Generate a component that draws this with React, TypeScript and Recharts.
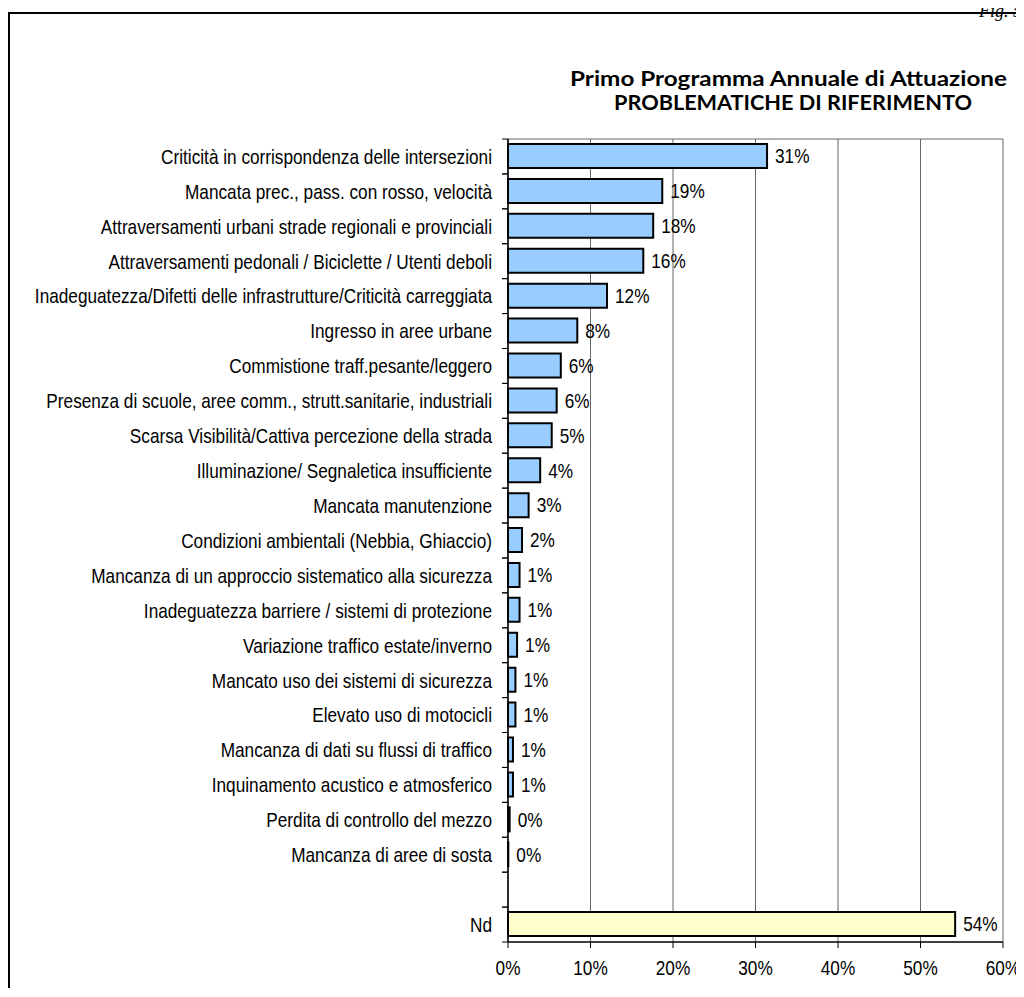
import { BarChart, Bar, XAxis, YAxis, CartesianGrid, LabelList, Cell } from "recharts";

// categories from top to bottom; '' is the empty slot before Nd
const categories = [
  "Criticità in corrispondenza delle intersezioni",
  "Mancata prec., pass. con rosso, velocità",
  "Attraversamenti urbani strade regionali e provinciali",
  "Attraversamenti pedonali / Biciclette / Utenti deboli",
  "Inadeguatezza/Difetti delle infrastrutture/Criticità carreggiata",
  "Ingresso in aree urbane",
  "Commistione traff.pesante/leggero",
  "Presenza di scuole, aree comm., strutt.sanitarie, industriali",
  "Scarsa Visibilità/Cattiva percezione della strada",
  "Illuminazione/ Segnaletica insufficiente",
  "Mancata manutenzione",
  "Condizioni ambientali (Nebbia, Ghiaccio)",
  "Mancanza di un approccio sistematico alla sicurezza",
  "Inadeguatezza barriere / sistemi di protezione",
  "Variazione traffico estate/inverno",
  "Mancato uso dei sistemi di sicurezza",
  "Elevato uso di motocicli",
  "Mancanza di dati su flussi di traffico",
  "Inquinamento acustico e atmosferico",
  "Perdita di controllo del mezzo",
  "Mancanza di aree di sosta",
  "",
  "Nd",
];

const shares = [
  31.4, 18.7, 17.6, 16.4, 12.0, 8.4, 6.4, 5.9, 5.3, 3.9, 2.5, 1.7,
  1.4, 1.4, 1.1, 0.9, 0.9, 0.6, 0.6, 0.2, 0.04, null, 54.2,
];

const xTicks = [0, 10, 20, 30, 40, 50, 60];

const titleLines = ["Primo Programma Annuale di Attuazione", "PROBLEMATICHE DI RIFERIMENTO"];

const data = categories.map((name, i) => ({ name, value: shares[i] }));

const W = 1016;
const H = 980;
const MARGIN = { top: 131, right: 21, bottom: 6, left: 0 };
const X_AXIS_H = 40;
const BAND = (H - MARGIN.top - MARGIN.bottom - X_AXIS_H) / categories.length;

// Arial Narrow look-alike: Arial metrics squeezed horizontally
const FONT = "'Liberation Sans', Arial, sans-serif";
const FS = 21;
const SQ = 0.82;

const NarrowText = ({ x, y, anchor, children }: any) => (
  <text
    transform={`translate(${x},${y}) scale(${SQ},1)`}
    textAnchor={anchor}
    dy="0.35em"
    fontSize={FS}
    fontFamily={FONT}
    fill="#000"
  >
    {children}
  </text>
);

const CategoryTick = (props: any) => {
  const { x, y, payload } = props;
  // x is the outer end of the tick line (axis - 6)
  return (
    <g>
      <line x1={x} x2={x + 6} y1={y - BAND / 2} y2={y - BAND / 2} stroke="#000" />
      <line x1={x} x2={x + 6} y1={y + BAND / 2} y2={y + BAND / 2} stroke="#000" />
      <NarrowText x={x - 10} y={y} anchor="end">
        {payload.value}
      </NarrowText>
    </g>
  );
};

const PercentTick = (props: any) => {
  const { x, y, payload } = props;
  return (
    <NarrowText x={x} y={y + 20} anchor="middle">
      {`${payload.value}%`}
    </NarrowText>
  );
};

const ValueLabel = (props: any) => {
  const { x, y, width, height, value } = props;
  if (value == null) return null;
  return (
    <NarrowText x={Number(x) + Number(width) + 8} y={Number(y) + Number(height) / 2} anchor="start">
      {`${Math.round(value)}%`}
    </NarrowText>
  );
};

export default function App() {
  return (
    <div style={{ position: "relative", width: W, height: H }}>
      <div
        style={{
          position: "absolute",
          left: 0,
          top: 4,
          width: W,
          height: H - 4,
          borderTop: "2px solid #000",
          borderLeft: "2px solid #000",
          boxSizing: "border-box",
        }}
      />
      <div
        style={{
          position: "absolute",
          right: 2,
          top: -6,
          whiteSpace: "nowrap",
          fontFamily: "'Liberation Serif', serif",
          fontStyle: "italic",
          fontSize: 18,
          lineHeight: "18px",
        }}
      >
        Fig. 5
      </div>
      <svg width={W} height={120} style={{ position: "absolute", left: 0, top: 0 }}>
        <text
          x={999}
          y={78}
          textAnchor="end"
          textLength={437}
          lengthAdjust="spacingAndGlyphs"
          fontFamily="Lato, sans-serif"
          fontWeight={700}
          fontSize={20}
        >
          {titleLines[0]}
        </text>
        <text
          x={964}
          y={102}
          textAnchor="end"
          textLength={358}
          lengthAdjust="spacingAndGlyphs"
          fontFamily="Lato, sans-serif"
          fontWeight={700}
          fontSize={20}
        >
          {titleLines[1]}
        </text>
      </svg>
      <div style={{ position: "absolute", left: 0, top: 0 }}>
        <BarChart width={W} height={H} data={data} layout="vertical" margin={MARGIN} barSize={24}>
          <CartesianGrid
            stroke="#666"
            strokeWidth={1}
            horizontalCoordinatesGenerator={({ offset }: any) => [offset.top]}
          />
          <XAxis
            type="number"
            domain={[0, 60]}
            ticks={xTicks}
            interval={0}
            height={X_AXIS_H}
            axisLine={{ stroke: "#000", strokeWidth: 1.5 }}
            tickLine={{ stroke: "#000" }}
            tickSize={6}
            tickMargin={0}
            tick={<PercentTick />}
          />
          <YAxis
            type="category"
            dataKey="name"
            width={500}
            interval={0}
            axisLine={{ stroke: "#000", strokeWidth: 1.5 }}
            tickLine={false}
            tickSize={6}
            tickMargin={0}
            tick={<CategoryTick />}
          />
          <Bar dataKey="value" stroke="#000" strokeWidth={2} isAnimationActive={false}>
            {data.map((d, i) => (
              <Cell key={i} fill={d.name === "Nd" ? "#FFFFCC" : "#99CCFF"} />
            ))}
            <LabelList dataKey="value" content={<ValueLabel />} />
          </Bar>
        </BarChart>
      </div>
    </div>
  );
}
